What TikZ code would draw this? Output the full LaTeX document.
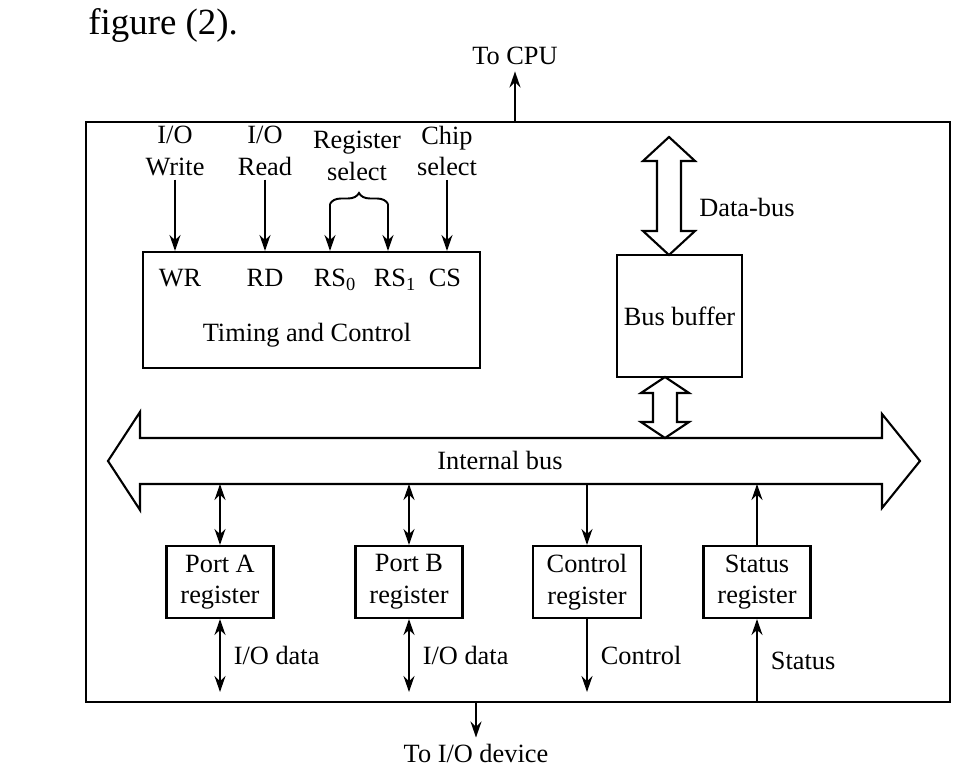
\documentclass[tikz,border=0pt]{standalone}
\usepackage{fontspec}
\setmainfont{Liberation Serif}
\usetikzlibrary{arrows.meta,positioning,calc,decorations.pathreplacing}

\tikzset{
  box/.style={draw, line width=1.2pt, align=center, inner sep=2pt},
  reg/.style={box, minimum height=1.44cm, inner xsep=0.28cm},
  sig/.style={line width=1.1pt, -{Stealth[length=3.2mm,width=2.2mm]}},
  sigboth/.style={line width=1.1pt, {Stealth[length=3.2mm,width=2.2mm]}-{Stealth[length=3.2mm,width=2.2mm]}},
  hollow/.style={draw, line width=1.2pt, fill=white, line join=miter},
  lbl/.style={align=center, inner sep=2pt}
}

% vertical hollow double arrow: x, top tip, bottom tip, shaft half width, head half width, head length
\newcommand{\hollowbus}[6]{%
  \draw[hollow] (#1,#2) -- (#1+#5,#2-#6) -- (#1+#4,#2-#6) -- (#1+#4,#3+#6) -- (#1+#5,#3+#6)
    -- (#1,#3) -- (#1-#5,#3+#6) -- (#1-#4,#3+#6) -- (#1-#4,#2-#6) -- (#1-#5,#2-#6) -- cycle;}

\begin{document}
\begin{tikzpicture}[x=0.02cm, y=0.02cm, font=\fontsize{15}{18}\selectfont]
\useasboundingbox (0,0) rectangle (971,768);

% page text above the figure
\node[anchor=base west, inner sep=0, font=\fontsize{21}{24}\selectfont] (fig) at (88,733) {figure (2).};

% outer frame
\coordinate (fsw) at (86,66);
\coordinate (fne) at (950,646);
\draw[line width=1.3pt] (fsw) rectangle (fne);

\node[anchor=base] (cpu) at (515,703) {To CPU};
\draw[sig] (cpu.south |- fne) -- (cpu.south);
\node[anchor=base] (iodev) at (476,6) {To I/O device};
\draw[sig] (iodev.north |- fsw) -- (iodev.north);

% timing and control
\node[box, minimum width=6.74cm, minimum height=2.32cm] (tc) at (311.5,458) {};
\node[anchor=base] (wr) at (180,481) {WR};
\node[anchor=base] (rd) at (265,481) {RD};
\node[anchor=base] (rs0) at (335,481) {RS\textsubscript{0}};
\node[anchor=base] (rs1) at (395,481) {RS\textsubscript{1}};
\node[anchor=base] (cs) at (445,481) {CS};
\node[anchor=base] (tclbl) at (307,426) {Timing and Control};

\node[lbl] (iow) at (175,617) {I/O\\Write};
\node[lbl] (ior) at (265,617) {I/O\\Read};
\node[lbl] (regsel) at (357,612) {Register\\select};
\node[lbl] (chip) at (447,617) {Chip\\select};

\draw[sig] (iow) -- (iow |- tc.north);
\draw[sig] (ior) -- (ior |- tc.north);
\draw[sig] (chip) -- (chip |- tc.north);

\coordinate (b0) at (330,564);
\coordinate (b1) at (388,564);
\draw[line width=1.1pt, decorate, decoration={brace, amplitude=0.22cm}] (b0) -- (b1);
\draw[sig] (b0) -- (b0 |- tc.north);
\draw[sig] (b1) -- (b1 |- tc.north);

% bus buffer and data bus
\node[box, minimum width=2.5cm, minimum height=2.44cm] (bb) at (679.5,452) {Bus buffer};
\hollowbus{669}{631}{513}{12}{26}{24}
\node (dbus) at (747,561) {Data-bus};

% internal bus
\draw[hollow] (108,307) -- (140,356) -- (140,330) -- (882,330) -- (882,354) -- (920,307)
  -- (882,260) -- (882,284) -- (140,284) -- (140,258) -- cycle;
\node (ibus) at (500,308) {Internal bus};
\coordinate (busb) at (0,284);
\hollowbus{665}{391}{330}{12}{24}{16}

% registers
\node[reg] (pa) at (220,186) {Port A\\register};
\node[reg] (pb) at (409,186) {Port B\\register};
\node[reg] (cr) at (587,186) {Control\\register};
\node[reg] (sr) at (757,186) {Status\\register};

\draw[sigboth] (pa.north |- busb) -- (pa.north);
\draw[sigboth] (pb.north |- busb) -- (pb.north);
\draw[sig] (cr.north |- busb) -- (cr.north);
\draw[sig] (sr.north) -- (sr.north |- busb);

\coordinate (lowc) at (0,76);
\draw[sigboth] (pa.south) -- (pa.south |- lowc) node[midway, right=4pt] {I/O data};
\draw[sigboth] (pb.south) -- (pb.south |- lowc) node[midway, right=4pt] {I/O data};
\draw[sig] (cr.south) -- (cr.south |- lowc) node[midway, right=4pt] {Control};
\draw[sig] (sr.south |- fsw) -- (sr.south) node[midway, right=4pt] {Status};
\end{tikzpicture}
\end{document}
